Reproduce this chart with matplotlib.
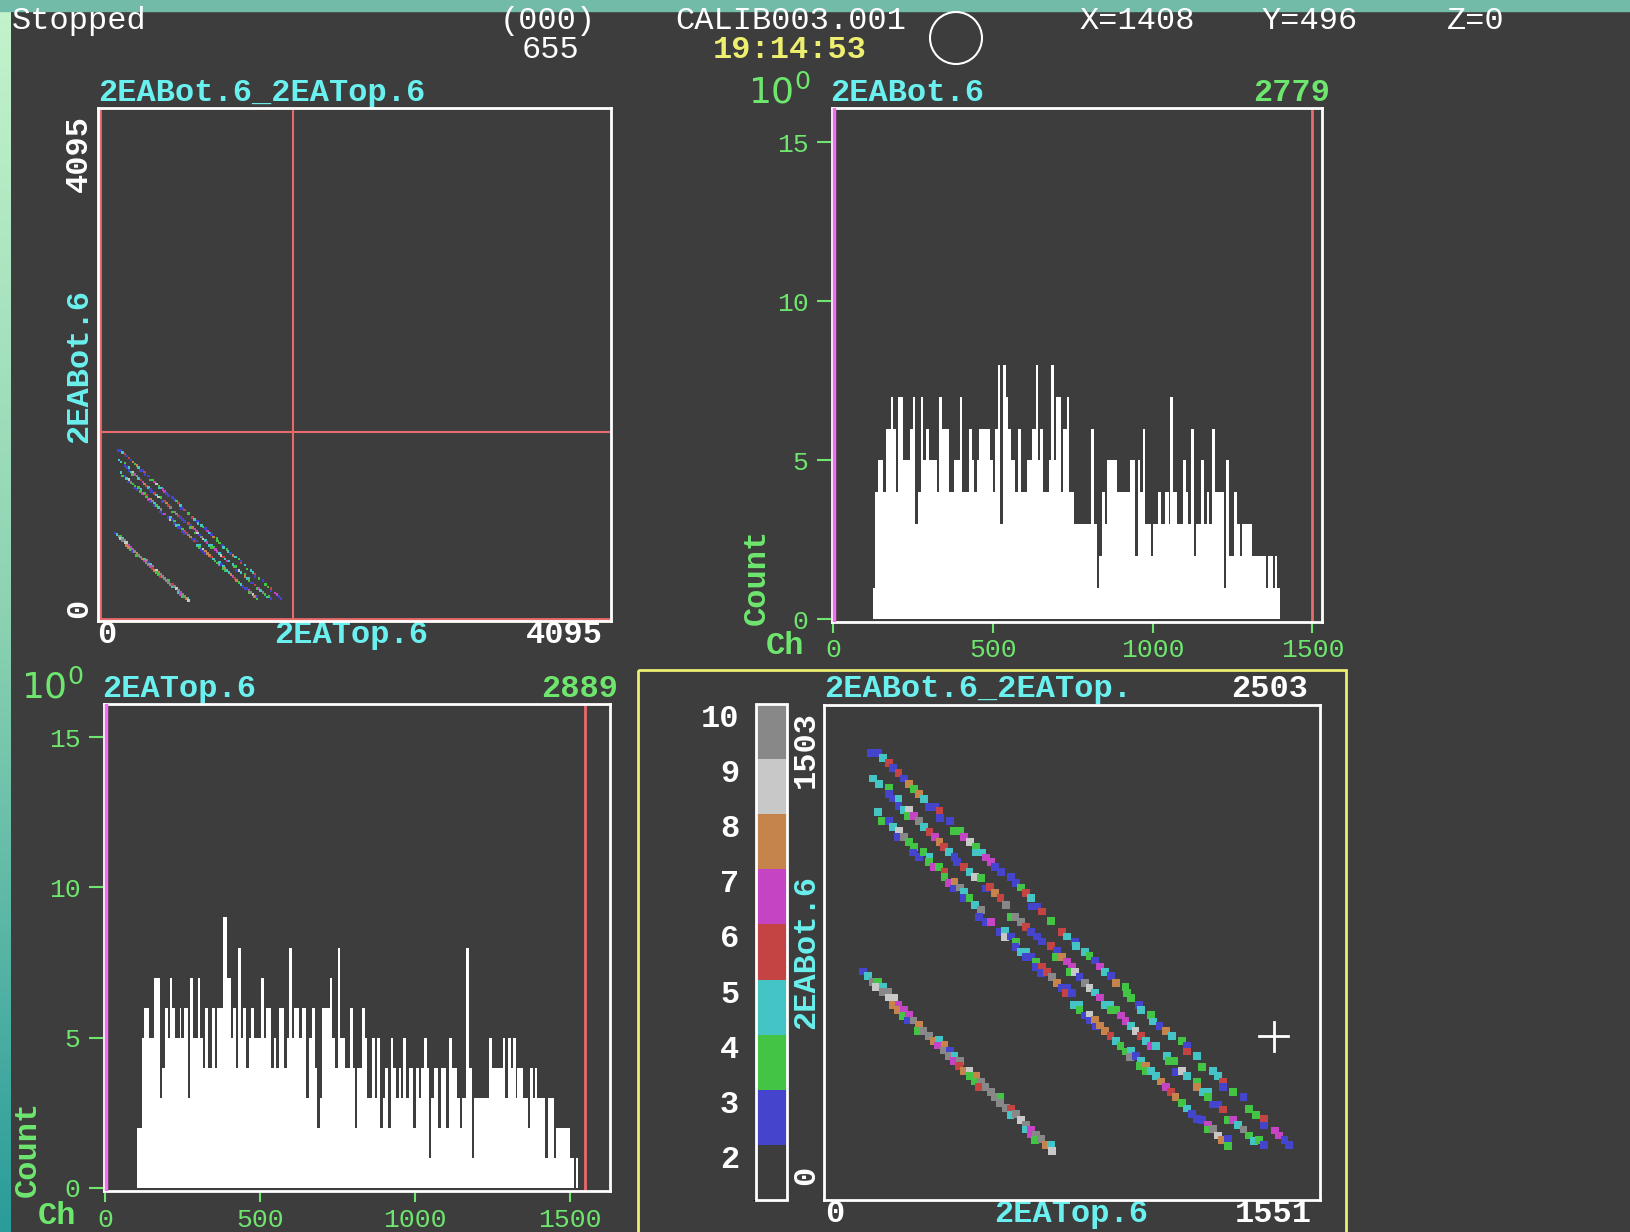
import numpy as np
import matplotlib
matplotlib.use('Agg')
import matplotlib.pyplot as plt
from matplotlib.colors import ListedColormap, BoundaryNorm, LinearSegmentedColormap
from matplotlib.patches import Rectangle, Circle

W, H = 1630, 1232
BG = '#3d3d3d'
CYAN = '#6af0ee'
GREEN = '#6ee66e'
RED = '#e86a6a'
MAGENTA = '#f070f0'
YELLOW = '#eeee70'

plt.rcParams['font.family'] = ['Liberation Mono', 'DejaVu Sans Mono', 'DejaVu Sans']

# ---- 1D spectrum 2EABot.6 (left edge of each step, count) ----
bot_start = [0, 124, 132, 140, 156, 165, 181, 188, 196, 204,
             219, 242, 250, 258, 267, 275, 283, 292, 300, 325,
             331, 340, 363, 379, 396, 403, 427, 435, 442, 450,
             458, 492, 500, 508, 517, 523, 531, 540, 548, 556,
             571, 579, 587, 606, 623, 635, 642, 648, 658, 675,
             683, 690, 698, 714, 721, 731, 740, 753, 808, 817,
             827, 833, 842, 850, 858, 890, 929, 946, 954, 962,
             969, 977, 994, 1002, 1016, 1025, 1039, 1050, 1056, 1064,
             1075, 1096, 1104, 1112, 1121, 1129, 1137, 1152, 1160, 1169,
             1177, 1185, 1194, 1223, 1231, 1239, 1256, 1264, 1273, 1281,
             1312, 1354, 1360, 1377, 1383, 1389, 1398]
bot_count = [0, 1, 4, 5, 4, 6, 7, 6, 4, 7,
             5, 6, 7, 3, 4, 7, 5, 6, 5, 4,
             7, 6, 4, 5, 7, 4, 6, 5, 4, 5,
             6, 5, 4, 6, 8, 3, 8, 7, 6, 5,
             4, 6, 4, 5, 6, 8, 5, 6, 4, 5,
             8, 5, 7, 4, 6, 7, 4, 3, 6, 3,
             1, 2, 4, 3, 5, 4, 5, 2, 5, 4,
             6, 3, 2, 3, 4, 3, 4, 3, 7, 4,
             3, 5, 4, 3, 6, 2, 3, 5, 3, 4,
             3, 6, 4, 1, 5, 2, 4, 3, 2, 3,
             2, 1, 2, 1, 2, 1, 0]
bot_end = 1530

# ---- 1D spectrum 2EATop.6 ----
top_start = [0, 102, 120, 127, 142, 157, 177, 184, 193, 202,
             209, 217, 227, 241, 247, 256, 267, 275, 284, 299,
             307, 316, 324, 333, 346, 354, 363, 382, 395, 406,
             414, 423, 431, 440, 446, 455, 464, 472, 481, 504,
             513, 521, 536, 545, 553, 562, 577, 586, 594, 603,
             611, 626, 635, 650, 658, 669, 678, 686, 695, 701,
             727, 733, 744, 753, 759, 774, 791, 799, 808, 815,
             831, 839, 847, 863, 871, 879, 888, 896, 905, 913,
             922, 930, 939, 948, 954, 963, 971, 980, 993, 1003,
             1012, 1020, 1029, 1038, 1046, 1053, 1061, 1076, 1085, 1102,
             1110, 1119, 1136, 1145, 1153, 1166, 1175, 1185, 1192, 1241,
             1250, 1284, 1292, 1301, 1310, 1318, 1327, 1331, 1348, 1365,
             1372, 1380, 1387, 1395, 1421, 1429, 1448, 1455, 1502, 1513,
             1519, 1528]
top_count = [0, 2, 5, 6, 5, 7, 3, 4, 6, 5,
             7, 6, 5, 6, 5, 6, 3, 7, 5, 7,
             5, 4, 6, 4, 6, 4, 6, 9, 7, 5,
             6, 4, 8, 5, 6, 4, 5, 6, 5, 7,
             5, 6, 4, 5, 4, 6, 4, 5, 8, 5,
             6, 5, 6, 3, 5, 6, 4, 2, 3, 6,
             7, 5, 4, 8, 5, 4, 6, 4, 2, 4,
             6, 5, 3, 5, 3, 5, 2, 3, 4, 2,
             5, 4, 3, 4, 3, 5, 3, 4, 2, 4,
             3, 4, 5, 4, 1, 3, 4, 2, 4, 2,
             5, 4, 3, 2, 3, 8, 4, 1, 3, 5,
             4, 5, 3, 5, 4, 5, 3, 4, 3, 2,
             4, 3, 4, 3, 1, 3, 1, 2, 1, 0,
             1, 0]
top_end = 1630

# ---- 2D spectrum 2EABot.6_2EATop.6, non-empty cells (x = Top ch, y = Bot ch, n = counts) ----
b1_x = [148, 169, 184, 202, 215, 233, 249, 265, 281, 297,
        313, 328, 346, 361, 363, 393, 405, 424, 439, 457,
        474, 476, 494, 507, 521, 536, 554, 585, 601, 617,
        632, 648, 651, 666, 681, 711, 743, 759, 784, 789,
        815, 830, 848, 864, 880, 898, 912, 943, 947, 960,
        984, 992, 1023, 1030, 1049, 1070, 1089, 1119, 1134, 1136,
        1167, 1182, 1216, 1231, 1247, 1247, 1280, 1312, 1330, 1351,
        1375, 1375, 1409, 1424, 1440, 1455]
b1_y = [1357, 1357, 1342, 1327, 1312, 1297, 1280, 1264, 1249, 1234,
        1218, 1194, 1194, 1182, 1161, 1151, 1120, 1120, 1103, 1088,
        1072, 1055, 1055, 1040, 1025, 1010, 995, 980, 963, 949,
        933, 916, 891, 891, 876, 847, 815, 800, 785, 770,
        754, 741, 727, 709, 693, 679, 660, 646, 628, 613,
        593, 578, 562, 542, 529, 514, 499, 482, 469, 451,
        436, 404, 391, 376, 360, 343, 328, 312, 277, 259,
        246, 226, 211, 196, 181, 166]
b1_n = [2, 2, 4, 5, 2, 5, 2, 7, 3, 7,
        4, 2, 2, 5, 2, 2, 3, 3, 6, 8,
        3, 4, 4, 6, 6, 2, 2, 2, 2, 3,
        5, 4, 2, 2, 5, 3, 5, 4, 2, 4,
        4, 3, 2, 6, 4, 2, 7, 3, 3, 3,
        2, 4, 3, 4, 2, 7, 4, 3, 2, 5,
        4, 3, 4, 4, 5, 2, 3, 2, 3, 3,
        5, 2, 6, 6, 2, 2]

b2_x = [153, 171, 202, 202, 215, 233, 233, 250, 265, 262,
        281, 297, 312, 330, 346, 361, 374, 391, 408, 416,
        437, 455, 471, 490, 505, 518, 535, 552, 568, 583,
        599, 617, 632, 648, 666, 681, 711, 728, 726, 744,
        759, 776, 768, 785, 799, 815, 830, 848, 862, 880,
        896, 898, 914, 929, 943, 960, 974, 992, 1007, 1023,
        1039, 1072, 1080, 1096, 1101, 1119, 1134, 1167, 1167, 1185,
        1200, 1200, 1216, 1231, 1247, 1263, 1278, 1294, 1312, 1328,
        1344, 1360, 1375]
b2_y = [1280, 1264, 1252, 1234, 1219, 1217, 1196, 1184, 1184, 1165,
        1165, 1150, 1133, 1118, 1103, 1088, 1072, 1057, 1042, 1027,
        1012, 997, 982, 977, 946, 951, 933, 916, 896, 860,
        860, 845, 830, 815, 800, 785, 770, 757, 737, 739,
        724, 709, 692, 692, 677, 660, 645, 630, 615, 593,
        593, 576, 576, 560, 544, 529, 514, 499, 482, 467,
        467, 438, 421, 421, 389, 391, 376, 360, 343, 328,
        328, 312, 290, 290, 275, 244, 244, 229, 214, 196,
        179, 182, 166]
b2_n = [4, 4, 3, 2, 2, 4, 2, 4, 8, 3,
        6, 9, 4, 5, 6, 7, 5, 4, 2, 2,
        5, 4, 8, 3, 2, 5, 7, 5, 9, 3,
        9, 9, 5, 2, 2, 2, 5, 2, 3, 7,
        6, 6, 3, 8, 2, 9, 8, 4, 6, 4,
        4, 3, 3, 6, 6, 4, 8, 5, 4, 6,
        4, 4, 3, 3, 2, 8, 4, 3, 7, 4,
        4, 3, 2, 2, 5, 3, 6, 4, 9, 3,
        4, 3, 2]

b3_x = [169, 181, 202, 215, 234, 231, 250, 265, 281, 278,
        297, 311, 330, 328, 344, 359, 377, 377, 391, 408,
        406, 424, 439, 437, 455, 473, 490, 486, 505, 521,
        549, 567, 565, 585, 601, 599, 617, 632, 632, 648,
        663, 663, 681, 679, 697, 712, 728, 744, 759, 757,
        776, 783, 799, 799, 815, 830, 830, 848, 851, 864,
        880, 896, 912, 927, 943, 960, 958, 976, 992, 989,
        1007, 1007, 1023, 1039, 1054, 1070, 1086, 1099, 1119, 1134,
        1150, 1167, 1182, 1200, 1200, 1216, 1231, 1245, 1263, 1263]
b3_y = [1179, 1150, 1150, 1133, 1121, 1103, 1101, 1086, 1072, 1055,
        1042, 1057, 1042, 1027, 1012, 1010, 997, 982, 963, 966,
        946, 949, 934, 916, 916, 896, 881, 860, 845, 845,
        815, 817, 798, 800, 785, 767, 754, 754, 739, 739,
        724, 707, 709, 689, 692, 677, 660, 645, 645, 628,
        628, 593, 593, 576, 560, 562, 545, 547, 527, 530,
        514, 499, 482, 467, 451, 454, 434, 438, 423, 406,
        408, 391, 391, 376, 360, 343, 328, 312, 295, 278,
        261, 246, 244, 229, 214, 216, 196, 181, 184, 163]
b3_n = [4, 3, 2, 4, 8, 2, 9, 3, 3, 2,
        2, 3, 4, 3, 6, 3, 5, 3, 6, 7,
        2, 9, 4, 2, 3, 4, 9, 2, 2, 6,
        2, 4, 8, 2, 3, 2, 4, 4, 2, 2,
        3, 2, 5, 2, 5, 9, 7, 2, 2, 5,
        2, 4, 4, 3, 2, 8, 2, 7, 2, 7,
        7, 5, 4, 3, 3, 4, 9, 2, 4, 3,
        7, 3, 4, 4, 7, 6, 5, 7, 3, 4,
        2, 2, 2, 6, 3, 9, 8, 7, 2, 3]

b4_x = [122, 137, 153, 169, 163, 184, 184, 200, 203, 219,
        215, 233, 231, 250, 247, 265, 262, 280, 297, 294,
        311, 327, 343, 359, 356, 377, 375, 393, 391, 408,
        405, 424, 422, 439, 455, 474, 455, 471, 490, 486,
        505, 521, 536, 552, 551, 568, 585, 583, 601, 617,
        632, 630, 648, 648, 663, 661, 679, 695, 710, 712]
b4_y = [694, 679, 663, 663, 646, 648, 631, 631, 615, 615,
        593, 593, 578, 578, 559, 562, 545, 545, 532, 514,
        514, 499, 482, 485, 469, 472, 454, 454, 438, 438,
        421, 421, 406, 391, 391, 376, 376, 360, 360, 343,
        343, 328, 312, 312, 295, 280, 278, 259, 261, 244,
        229, 214, 214, 199, 199, 181, 184, 166, 166, 150]
b4_n = [2, 4, 9, 3, 8, 4, 9, 9, 8, 8,
        7, 6, 7, 6, 3, 6, 2, 9, 7, 3,
        9, 9, 7, 4, 6, 7, 9, 2, 9, 4,
        6, 9, 5, 7, 8, 7, 3, 3, 9, 5,
        9, 9, 9, 3, 9, 9, 5, 4, 9, 8,
        9, 4, 6, 6, 9, 3, 9, 7, 4, 8]

bands = [(b1_x, b1_y, b1_n), (b2_x, b2_y, b2_n), (b3_x, b3_y, b3_n), (b4_x, b4_y, b4_n)]

level_colors = ['#3d3d3d', '#4444cc', '#44c444', '#44c4c4', '#c44444',
                '#c444c4', '#c4844c', '#c8c8c8', '#888888']
levels = [1, 2, 3, 4, 5, 6, 7, 8, 9, 10]
cmap = ListedColormap(level_colors)
norm = BoundaryNorm(levels, cmap.N)

fig = plt.figure(figsize=(W / 100, H / 100), dpi=100, facecolor=BG)


def px_axes(x0, y0, x1, y1):
    a = fig.add_axes([x0 / W, 1 - y1 / H, (x1 - x0) / W, (y1 - y0) / H])
    a.set_facecolor('none')
    return a


def white_frame(a):
    for sp in a.spines.values():
        sp.set_color('white')
        sp.set_linewidth(2)


# background, side strips, header
bg = fig.add_axes([0, 0, 1, 1], zorder=-10)
grad = LinearSegmentedColormap.from_list('strip', ['#c4f4cc', '#8cd2b2', '#2a9c9a'])
bg.imshow(np.linspace(0, 1, 256)[:, None], cmap=grad, extent=(0, 11, H, 0), aspect='auto')
bg.add_patch(Rectangle((0, 0), W, 11, color='#72bba8'))
bg.set_xlim(0, W)
bg.set_ylim(H, 0)
bg.axis('off')

hdr = dict(color='white', fontsize=23, va='center')
bg.text(12, 21, 'Stopped', ha='left', **hdr)
bg.text(548, 21, '(000)', ha='center', **hdr)
bg.text(550, 50, '655', ha='center', **hdr)
bg.text(791, 21, 'CALIB003.001', ha='center', **hdr)
bg.text(790, 50, '19:14:53', ha='center', color=YELLOW, fontsize=23, va='center', weight='bold')
bg.text(1137, 21, 'X=1408', ha='center', **hdr)
bg.text(1310, 21, 'Y=496', ha='center', **hdr)
bg.text(1476, 21, 'Z=0', ha='center', **hdr)
bg.add_patch(Circle((956, 38), 26, fill=False, ec='white', lw=1.5))

bold = dict(fontsize=23, weight='bold', va='center')

# ---- top left: full 2D spectrum ----
ax1 = px_axes(98, 108, 611, 621)
for bx, by, bn in bands:
    ax1.scatter(bx, by, c=bn, cmap=cmap, norm=norm, marker='s', s=3.5, linewidths=0)
ax1.axvline(0, color=RED, lw=2)
ax1.axhline(0, color=RED, lw=2)
ax1.axvline(1551, color=RED, lw=1.5)
ax1.axhline(1503, color=RED, lw=1.5)
ax1.set_xlim(-15, 4110)
ax1.set_ylim(-15, 4110)
ax1.set_xticks([])
ax1.set_yticks([])
white_frame(ax1)
bg.text(98, 93, '2EABot.6_2EATop.6', color=CYAN, ha='left', **bold)
bg.text(79, 153, '4095', color='white', rotation=90, ha='center', **bold)
bg.text(79, 366, '2EABot.6', color=CYAN, rotation=90, ha='center', **bold)
bg.text(79, 608, '0', color='white', rotation=90, ha='center', **bold)
bg.text(107, 635, '0', color='white', ha='center', **bold)
bg.text(351, 635, '2EATop.6', color=CYAN, ha='center', **bold)
bg.text(603, 635, '4095', color='white', ha='right', **bold)


def spectrum(a, start, count, end, xmax, ymin, ymax, gate):
    a.stairs(count, start + [end], fill=True, color='white', baseline=0)
    a.axvline(3, color=MAGENTA, lw=2.5, zorder=3)
    a.axvline(gate, color=RED, lw=2)
    a.set_xlim(-3, xmax)
    a.set_ylim(ymin, ymax)
    a.set_xticks([0, 500, 1000, 1500])
    a.set_yticks([0, 5, 10, 15])
    a.tick_params(axis='y', colors=GREEN, length=11, width=1.5, pad=6, labelsize=19)
    a.tick_params(axis='x', colors=GREEN, length=8, width=1.5, pad=4, labelsize=19)
    white_frame(a)


# ---- top right: 2EABot.6 ----
ax2 = px_axes(832, 108, 1322, 621.6)
spectrum(ax2, bot_start, bot_count, bot_end, 1530, -0.07, 16.08, 1500)
bg.text(748, 92, '10$^0$', color=GREEN, fontsize=26, family='DejaVu Sans', ha='left', va='center')
bg.text(830, 93, '2EABot.6', color=CYAN, ha='left', **bold)
bg.text(1330, 93, '2779', color=GREEN, ha='right', **bold)
bg.text(757, 577, 'Count', color=GREEN, rotation=90, ha='center', **bold)
bg.text(785, 646, 'Ch', color=GREEN, ha='center', **bold)

# ---- bottom left: 2EATop.6 ----
ax3 = px_axes(104, 704, 610, 1191)
spectrum(ax3, top_start, top_count, top_end, 1630, -0.1, 16.1, 1548)
bg.text(21, 687, '10$^0$', color=GREEN, fontsize=26, family='DejaVu Sans', ha='left', va='center')
bg.text(102, 689, '2EATop.6', color=CYAN, ha='left', **bold)
bg.text(618, 689, '2889', color=GREEN, ha='right', **bold)
bg.text(28, 1149, 'Count', color=GREEN, rotation=90, ha='center', **bold)
bg.text(57, 1216, 'Ch', color=GREEN, ha='center', **bold)

# ---- bottom right: gated 2D spectrum with colour scale ----
bg.add_patch(Rectangle((638, 670), 708, 600, fill=False, ec=YELLOW, lw=2))
ax4 = px_axes(824, 705, 1320, 1200)
for bx, by, bn in bands:
    sc = ax4.scatter(bx, by, c=bn, cmap=cmap, norm=norm, marker='s', s=32, linewidths=0)
ax4.set_xlim(0, 1551)
ax4.set_ylim(0, 1503)
ax4.set_xticks([])
ax4.set_yticks([])
white_frame(ax4)
bg.plot([1259, 1288], [1036, 1036], color='white', lw=2)
bg.plot([1273.5, 1273.5], [1022, 1051], color='white', lw=2)
bg.text(824, 689, '2EABot.6_2EATop.', color=CYAN, ha='left', **bold)
bg.text(1308, 689, '2503', color='white', ha='right', **bold)
bg.text(835, 1214, '0', color='white', ha='center', **bold)
bg.text(1071, 1214, '2EATop.6', color=CYAN, ha='center', **bold)
bg.text(1312, 1214, '1551', color='white', ha='right', **bold)
bg.text(806, 749, '1503', color='white', rotation=90, ha='center', **bold)
bg.text(806, 952, '2EABot.6', color=CYAN, rotation=90, ha='center', **bold)
bg.text(806, 1175, '0', color='white', rotation=90, ha='center', **bold)

cax = px_axes(756, 704, 787, 1200)
cb = fig.colorbar(sc, cax=cax, ticks=levels[1:])
cb.outline.set_edgecolor('white')
cb.outline.set_linewidth(2)
cax.yaxis.set_ticks_position('left')
cax.tick_params(axis='y', length=0, pad=12, labelsize=23, labelcolor='white')
for lab in cax.get_yticklabels():
    lab.set_fontweight('bold')
    lab.set_va('top')

fig.savefig('out.png', dpi=100, facecolor=BG)
